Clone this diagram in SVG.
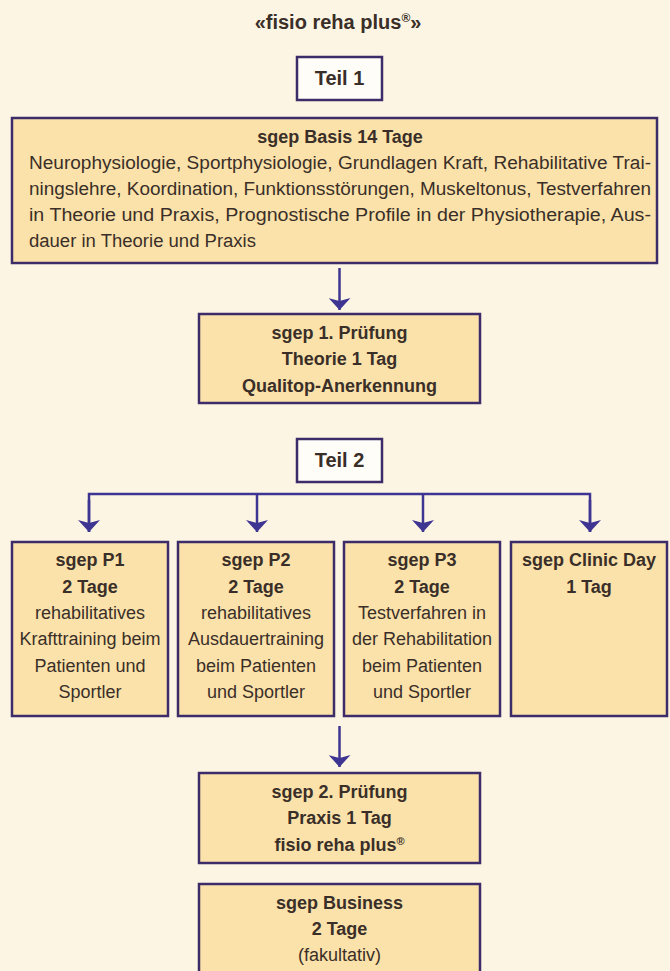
<svg xmlns="http://www.w3.org/2000/svg" width="670" height="971" viewBox="0 0 670 971">
<style>
  .bg { fill: #fdf5e3; }
  .box { fill: #fbe2aa; stroke: #3c2c6a; stroke-width: 2.5; }
  .tag { fill: #fffdf7; stroke: #3c2c6a; stroke-width: 2.5; }
  text { font-family: "Liberation Sans", Arial, sans-serif; fill: #3a2f28; }
  .b { font-weight: bold; font-size: 18px; text-anchor: middle; }
  .r { font-size: 18px; text-anchor: middle; }
  .l { font-size: 18px; }
  .h { font-weight: bold; font-size: 20px; text-anchor: middle; }
  .conn { stroke: #3d3591; stroke-width: 2.5; fill: none; }
</style>
<defs>
  <marker id="ah" viewBox="0 0 12 22" refX="12" refY="11" markerWidth="12" markerHeight="22" markerUnits="userSpaceOnUse" orient="auto">
    <path d="M0,0 L12,11 L0,22 L3,11 Z" fill="#3d3591"/>
  </marker>
</defs>
<rect class="bg" x="0" y="0" width="670" height="971"/>

<g id="title">
  <text class="h" x="338" y="29">«fisio reha plus<tspan font-size="12" dy="-7">®</tspan><tspan dy="7">»</tspan></text>
</g>

<g id="teil1">
  <rect class="tag" x="297" y="57" width="85" height="43"/>
  <text class="h" x="339.5" y="85">Teil 1</text>
</g>

<g id="basis">
  <rect class="box" x="12" y="118" width="645" height="145"/>
  <text class="b" x="340" y="143">sgep Basis 14 Tage</text>
  <text class="l" x="29" y="169" textLength="622" lengthAdjust="spacingAndGlyphs">Neurophysiologie, Sportphysiologie, Grundlagen Kraft, Rehabilitative Trai-</text>
  <text class="l" x="29" y="195" textLength="622" lengthAdjust="spacingAndGlyphs">ningslehre, Koordination, Funktionsstörungen, Muskeltonus, Testverfahren</text>
  <text class="l" x="29" y="221" textLength="622" lengthAdjust="spacingAndGlyphs">in Theorie und Praxis, Prognostische Profile in der Physiotherapie, Aus-</text>
  <text class="l" x="29" y="247" textLength="227" lengthAdjust="spacingAndGlyphs">dauer in Theorie und Praxis</text>
</g>

<g id="pruefung1">
  <rect class="box" x="199" y="314" width="281" height="89"/>
  <text class="b" x="339.5" y="339">sgep 1. Prüfung</text>
  <text class="b" x="339.5" y="365">Theorie 1 Tag</text>
  <text class="b" x="339.5" y="392">Qualitop-Anerkennung</text>
</g>

<g id="teil2">
  <rect class="tag" x="297" y="439" width="85" height="43"/>
  <text class="h" x="339.5" y="467">Teil 2</text>
</g>

<g id="p1">
  <rect class="box" x="12" y="542" width="156" height="174"/>
  <text class="b" x="90" y="566">sgep P1</text>
  <text class="b" x="90" y="593">2 Tage</text>
  <text class="r" x="90" y="619">rehabilitatives</text>
  <text class="r" x="90" y="645">Krafttraining beim</text>
  <text class="r" x="90" y="672">Patienten und</text>
  <text class="r" x="90" y="698">Sportler</text>
</g>

<g id="p2">
  <rect class="box" x="178" y="542" width="156" height="174"/>
  <text class="b" x="256" y="566">sgep P2</text>
  <text class="b" x="256" y="593">2 Tage</text>
  <text class="r" x="256" y="619">rehabilitatives</text>
  <text class="r" x="256" y="645">Ausdauertraining</text>
  <text class="r" x="256" y="672">beim Patienten</text>
  <text class="r" x="256" y="698">und Sportler</text>
</g>

<g id="p3">
  <rect class="box" x="344" y="542" width="156" height="174"/>
  <text class="b" x="422" y="566">sgep P3</text>
  <text class="b" x="422" y="593">2 Tage</text>
  <text class="r" x="422" y="619">Testverfahren in</text>
  <text class="r" x="422" y="645">der Rehabilitation</text>
  <text class="r" x="422" y="672">beim Patienten</text>
  <text class="r" x="422" y="698">und Sportler</text>
</g>

<g id="clinic">
  <rect class="box" x="511" y="542" width="156" height="174"/>
  <text class="b" x="589" y="566">sgep Clinic Day</text>
  <text class="b" x="589" y="593">1 Tag</text>
</g>

<g id="pruefung2">
  <rect class="box" x="199" y="773" width="281" height="90"/>
  <text class="b" x="339.5" y="798">sgep 2. Prüfung</text>
  <text class="b" x="339.5" y="824">Praxis 1 Tag</text>
  <text class="b" x="339.5" y="851">fisio reha plus<tspan font-size="11" dy="-6">®</tspan></text>
</g>

<g id="business">
  <rect class="box" x="199" y="884" width="281" height="95"/>
  <text class="b" x="339.5" y="909">sgep Business</text>
  <text class="b" x="339.5" y="935">2 Tage</text>
  <text class="r" x="339.5" y="961">(fakultativ)</text>
</g>

<g id="connectors">
  <line class="conn" x1="339.5" y1="268" x2="339.5" y2="310" marker-end="url(#ah)"/>
  <polyline class="conn" points="89,532 89,494 590,494 590,532"/>
  <line class="conn" x1="89" y1="500" x2="89" y2="532" marker-end="url(#ah)"/>
  <line class="conn" x1="257" y1="494" x2="257" y2="532" marker-end="url(#ah)"/>
  <line class="conn" x1="423" y1="494" x2="423" y2="532" marker-end="url(#ah)"/>
  <line class="conn" x1="590" y1="500" x2="590" y2="532" marker-end="url(#ah)"/>
  <line class="conn" x1="339.5" y1="726" x2="339.5" y2="767" marker-end="url(#ah)"/>
</g>
</svg>
